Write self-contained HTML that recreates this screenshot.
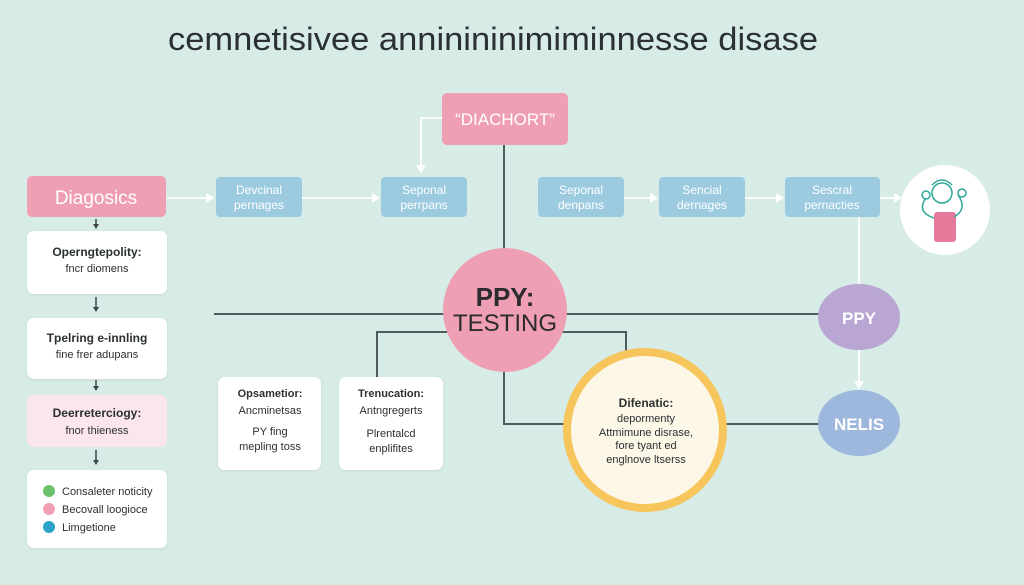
<!DOCTYPE html>
<html><head><meta charset="utf-8"><style>
html,body{margin:0;padding:0;background:#d7ebe7;}
svg{display:block;font-family:"Liberation Sans",sans-serif;}
</style></head><body>
<svg width="1024" height="585" viewBox="0 0 1024 585" xmlns="http://www.w3.org/2000/svg">
<defs>
<filter id="sh" x="-10%" y="-10%" width="120%" height="130%"><feDropShadow dx="0" dy="1" stdDeviation="1.5" flood-color="#000" flood-opacity="0.08"/></filter>
</defs>
<rect width="1024" height="585" fill="#d7ebe7"/>
<text x="168" y="50" font-size="32" fill="#2b3033" textLength="650" lengthAdjust="spacingAndGlyphs">cemnetisivee anninininimiminnesse disase</text>

<g stroke="#4f5a5c" stroke-width="2" fill="none">
<line x1="504" y1="145" x2="504" y2="250"/>
<line x1="214" y1="314" x2="820" y2="314"/>
<polyline points="448,332 377,332 377,378"/>
<polyline points="560,332 626,332 626,352"/>
<polyline points="504,370 504,424 566,424"/>
<line x1="724" y1="424" x2="820" y2="424"/>
</g>

<g stroke="#ffffff" stroke-width="1.8" fill="none">
<line x1="167" y1="198" x2="208" y2="198"/>
<line x1="302" y1="198" x2="374" y2="198"/>
<line x1="624" y1="198" x2="652" y2="198"/>
<line x1="745" y1="198" x2="778" y2="198"/>
<line x1="880" y1="198" x2="896" y2="198"/>
<polyline points="442,118 421,118 421,166"/>
<line x1="859" y1="217" x2="859" y2="284"/>
<line x1="859" y1="350" x2="859" y2="382"/>
</g>
<g fill="#ffffff">
<polygon points="214,198 206,193 206,203"/>
<polygon points="380,198 372,193 372,203"/>
<polygon points="658,198 650,193 650,203"/>
<polygon points="784,198 776,193 776,203"/>
<polygon points="902,198 894,193 894,203"/>
<polygon points="421,173 416,165 426,165"/>
<polygon points="859,389 854,381 864,381"/>
</g>

<rect x="27" y="176" width="139" height="41" rx="5" fill="#ef9fb4"/>
<text x="96" y="204" font-size="19" fill="#fff" text-anchor="middle">Diagosics</text>

<g stroke="#3b4548" stroke-width="1.5" fill="#3b4548">
<line x1="96" y1="219" x2="96" y2="226"/><polygon points="96,229 93,224 99,224" stroke="none"/>
<line x1="96" y1="297" x2="96" y2="309"/><polygon points="96,312 93,307 99,307" stroke="none"/>
<line x1="96" y1="380" x2="96" y2="388"/><polygon points="96,391 93,386 99,386" stroke="none"/>
<line x1="96" y1="450" x2="96" y2="462"/><polygon points="96,465 93,460 99,460" stroke="none"/>
</g>

<rect x="27" y="231" width="140" height="63" rx="7" fill="#fff" filter="url(#sh)"/>
<text x="97" y="256" font-size="12" fill="#2b3033" text-anchor="middle" font-weight="bold">Operngtepolity:</text>
<text x="97" y="272" font-size="11" fill="#2b3033" text-anchor="middle">fncr diomens</text>

<rect x="27" y="318" width="140" height="61" rx="7" fill="#fff" filter="url(#sh)"/>
<text x="97" y="342" font-size="12" fill="#2b3033" text-anchor="middle" font-weight="bold">Tpelring e-innling</text>
<text x="97" y="358" font-size="11" fill="#2b3033" text-anchor="middle">fine frer adupans</text>

<rect x="27" y="395" width="140" height="52" rx="7" fill="#fbe6ec"/>
<text x="97" y="417" font-size="12" fill="#2b3033" text-anchor="middle" font-weight="bold">Deerreterciogy:</text>
<text x="97" y="434" font-size="11" fill="#2b3033" text-anchor="middle">fnor thieness</text>

<rect x="27" y="470" width="140" height="78" rx="7" fill="#fff" filter="url(#sh)"/>
<circle cx="49" cy="491" r="6" fill="#6cc06c"/>
<circle cx="49" cy="509" r="6" fill="#f0a0b4"/>
<circle cx="49" cy="527" r="6" fill="#2ba3c8"/>
<text x="62" y="495" font-size="11" fill="#2b3033">Consaleter noticity</text>
<text x="62" y="513" font-size="11" fill="#2b3033">Becovall loogioce</text>
<text x="62" y="531" font-size="11" fill="#2b3033">Limgetione</text>

<g fill="#9ccbe0">
<rect x="216" y="177" width="86" height="40" rx="4"/>
<rect x="381" y="177" width="86" height="40" rx="4"/>
<rect x="538" y="177" width="86" height="40" rx="4"/>
<rect x="659" y="177" width="86" height="40" rx="4"/>
<rect x="785" y="177" width="95" height="40" rx="4"/>
</g>
<g font-size="12" fill="#fff" text-anchor="middle">
<text x="259" y="194">Devcinal</text><text x="259" y="209">pernages</text>
<text x="424" y="194">Seponal</text><text x="424" y="209">perrpans</text>
<text x="581" y="194">Seponal</text><text x="581" y="209">denpans</text>
<text x="702" y="194">Sencial</text><text x="702" y="209">dernages</text>
<text x="832" y="194">Sescral</text><text x="832" y="209">pernacties</text>
</g>

<circle cx="945" cy="210" r="45" fill="#fff"/>
<rect x="934" y="212" width="22" height="30" rx="3" fill="#e77a9b"/>
<g stroke="#2ea79a" stroke-width="1.5" fill="none">
<circle cx="942" cy="193" r="10"/>
<path d="M932 185 q10 -10 20 0"/>
<path d="M926 198 q-10 14 8 20"/>
<path d="M958 195 q10 14 -4 22"/>
<circle cx="926" cy="195" r="4"/><circle cx="962" cy="193" r="4"/>
</g>

<rect x="442" y="93" width="126" height="52" rx="5" fill="#ef9fb4"/>
<text x="505" y="125" font-size="17" fill="#fff" text-anchor="middle">“DIACHORT”</text>

<circle cx="505" cy="310" r="62" fill="#ef9fb4"/>
<text x="505" y="306" font-size="26" font-weight="bold" fill="#2b2b2e" text-anchor="middle">PPY:</text>
<text x="505" y="331" font-size="24" fill="#2b2b2e" text-anchor="middle">TESTING</text>

<rect x="218" y="377" width="103" height="93" rx="7" fill="#fff" filter="url(#sh)"/>
<g font-size="11" fill="#2b3033" text-anchor="middle">
<text x="270" y="397" font-weight="bold">Opsametior:</text>
<text x="270" y="414">Ancminetsas</text>
<text x="270" y="435">PY fing</text>
<text x="270" y="450">mepling toss</text>
</g>
<rect x="339" y="377" width="104" height="93" rx="7" fill="#fff" filter="url(#sh)"/>
<g font-size="11" fill="#2b3033" text-anchor="middle">
<text x="391" y="397" font-weight="bold">Trenucation:</text>
<text x="391" y="414">Antngregerts</text>
<text x="391" y="437">Plrentalcd</text>
<text x="391" y="452">enplifites</text>
</g>

<circle cx="645" cy="430" r="78" fill="#fdf7e7" stroke="#f6c55c" stroke-width="8"/>
<g font-size="11" fill="#2b3033" text-anchor="middle">
<text x="646" y="407" font-weight="bold" font-size="12">Difenatic:</text>
<text x="646" y="422">depormenty</text>
<text x="646" y="436">Attmimune disrase,</text>
<text x="646" y="449">fore tyant ed</text>
<text x="646" y="463">englnove ltserss</text>
</g>

<ellipse cx="859" cy="317" rx="41" ry="33" fill="#b9a6d3"/>
<text x="859" y="324" font-size="17" font-weight="bold" fill="#fff" text-anchor="middle">PPY</text>
<ellipse cx="859" cy="423" rx="41" ry="33" fill="#9eb7dd"/>
<text x="859" y="430" font-size="17" font-weight="bold" fill="#fff" text-anchor="middle">NELIS</text>
</svg>
</body></html>
